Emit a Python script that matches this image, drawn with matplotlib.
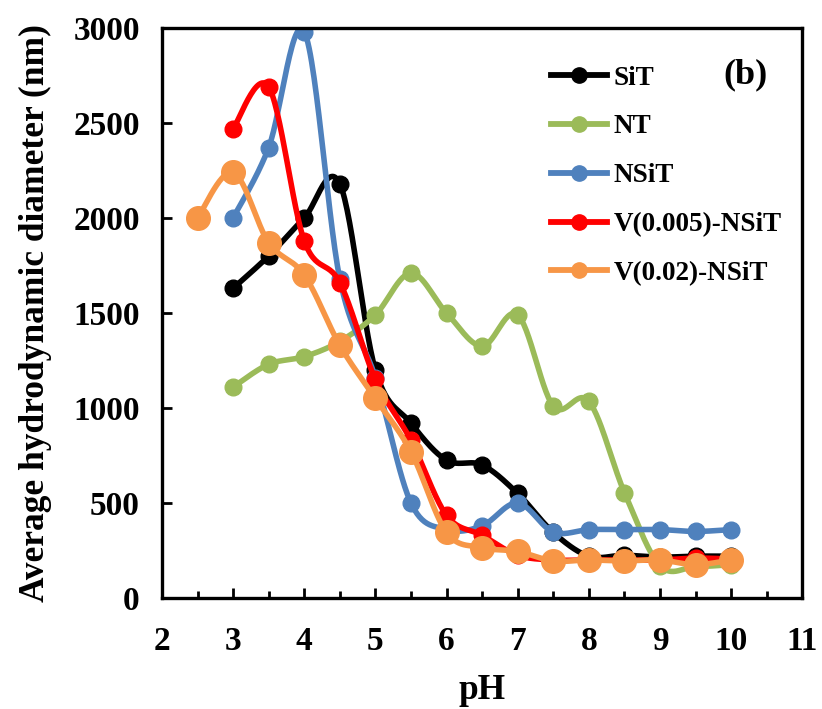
import numpy as np
import matplotlib
matplotlib.use('Agg')
from matplotlib import pyplot as plt

# pH values for each sample series
ph_sit = [3, 3.5, 4, 4.5, 5, 5.5, 6, 6.5, 7, 7.5, 8, 8.5, 9, 9.5, 10]
ph_nt = [3, 3.5, 4, 4.5, 5, 5.5, 6, 6.5, 7, 7.5, 8, 8.5, 9, 9.5, 10]
ph_nsit = [3, 3.5, 4, 4.5, 5, 5.5, 6, 6.5, 7, 7.5, 8, 8.5, 9, 9.5, 10]
ph_v005 = [3, 3.5, 4, 4.5, 5, 5.5, 6, 6.5, 7, 7.5, 8, 8.5, 9, 9.5, 10]
ph_v02 = [2.5, 3, 3.5, 4, 4.5, 5, 5.5, 6, 6.5, 7, 7.5, 8, 8.5, 9, 9.5, 10]

# average hydrodynamic diameter (nm)
d_sit = [1630, 1800, 2000, 2180, 1200, 920, 725, 700, 550, 345, 220, 225, 215, 220, 220]
d_nt = [1110, 1230, 1270, 1350, 1490, 1710, 1500, 1325, 1490, 1010, 1035, 555, 170, 165, 175]
d_nsit = [2000, 2370, 2980, 1680, 1160, 500, 360, 380, 500, 347, 360, 360, 360, 350, 360]
d_v005 = [2470, 2690, 1880, 1660, 1150, 830, 435, 330, 225, 200, 200, 200, 200, 210, 205]
d_v02 = [2000, 2240, 1870, 1700, 1330, 1050, 770, 345, 265, 245, 195, 200, 195, 200, 175, 200]

labels = ['SiT', 'NT', 'NSiT', 'V(0.005)-NSiT', 'V(0.02)-NSiT']
colors = ['#000000', '#9BBB59', '#4F81BD', '#FF0000', '#F79646']
msizes = [12, 12, 12, 12, 17]


def smooth(x, y, n=30):
    # Catmull-Rom curve through the points, like a spreadsheet "smoothed line"
    x = np.asarray(x, float)
    y = np.asarray(y, float)
    px = np.concatenate([[x[0]], x, [x[-1]]])
    py = np.concatenate([[y[0]], y, [y[-1]]])
    xs, ys = [], []
    t = np.linspace(0, 1, n)
    for i in range(1, len(px) - 2):
        x0, x1, x2, x3 = px[i - 1:i + 3]
        y0, y1, y2, y3 = py[i - 1:i + 3]
        # bezier control points
        cx1, cy1 = x1 + (x2 - x0) / 6, y1 + (y2 - y0) / 6
        cx2, cy2 = x2 - (x3 - x1) / 6, y2 - (y3 - y1) / 6
        bx = (1 - t) ** 3 * x1 + 3 * (1 - t) ** 2 * t * cx1 + 3 * (1 - t) * t ** 2 * cx2 + t ** 3 * x2
        by = (1 - t) ** 3 * y1 + 3 * (1 - t) ** 2 * t * cy1 + 3 * (1 - t) * t ** 2 * cy2 + t ** 3 * y2
        xs.append(bx)
        ys.append(by)
    return np.concatenate(xs), np.concatenate(ys)


plt.rcParams['font.family'] = 'Liberation Serif'
plt.rcParams['font.weight'] = 'bold'

fig = plt.figure(figsize=(8.22, 7.09), dpi=100)
ax = fig.add_axes([0.197, 0.1566, 0.779, 0.804])

series = [(ph_sit, d_sit), (ph_nt, d_nt), (ph_nsit, d_nsit), (ph_v005, d_v005), (ph_v02, d_v02)]
for (x, y), lab, c, ms in zip(series, labels, colors, msizes):
    sx, sy = smooth(x, y)
    ax.plot(sx, sy, color=c, lw=4, solid_capstyle='round')
    ax.plot(x, y, 'o', color=c, ms=ms)
    # legend handle
    ax.plot([], [], '-o', color=c, lw=4.2, ms=11, label=lab)

ax.set_xlim(2, 11)
ax.set_ylim(0, 3000)
ax.set_xticks(range(2, 12))
ax.set_xticks(np.arange(2.5, 11, 1), minor=True)
ax.set_yticks(range(0, 3001, 500))
ax.tick_params(axis='both', which='both', direction='in', width=2, labelsize=24)
ax.tick_params(axis='both', which='major', length=7)
ax.tick_params(axis='x', which='minor', length=5)
ax.tick_params(axis='x', pad=20.5)
ax.tick_params(axis='y', pad=16)
for s in ax.spines.values():
    s.set_linewidth(2.4)

ax.set_xlabel('pH', fontsize=25.5, fontweight='bold', labelpad=12)
ax.set_ylabel('Average hydrodynamic diameter (nm)', fontsize=25.5, fontweight='bold', labelpad=15)

ax.text(0.911, 0.918, '(b)', transform=ax.transAxes, fontsize=26, fontweight='bold',
        ha='center', va='center')

ax.legend(loc='upper left', bbox_to_anchor=(0.59, 0.953), frameon=False, fontsize=19.5,
          handlelength=2.1, handletextpad=0.22, labelspacing=0.88, borderaxespad=0)

fig.savefig('out.png', dpi=100)
